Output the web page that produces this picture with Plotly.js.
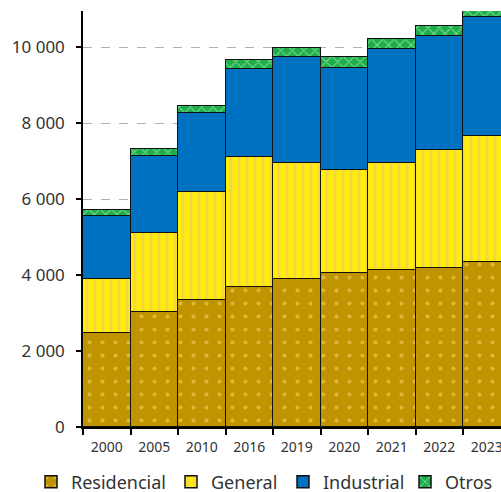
<!DOCTYPE html>
<html>
<head>
<meta charset="utf-8">
<script src="https://cdn.plot.ly/plotly-3.0.1.min.js"></script>
<style>html,body{margin:0;padding:0;overflow:hidden;background:#fff;}#chart{width:501px;height:492px;}</style>
</head>
<body>
<div id="chart"></div>
<script>
var years = ['2000','2005','2010','2016','2019','2020','2021','2022','2023'];
var residencial = [2470, 3030, 3350, 3680, 3900, 4045, 4130, 4180, 4360];
var general = [1430, 2080, 2830, 3430, 3060, 2735, 2825, 3105, 3300];
var industrial = [1670, 2040, 2080, 2310, 2800, 2680, 3015, 3015, 3150];
var otros = [140, 185, 190, 240, 230, 280, 245, 265, 170];

function tr(name, vals, color, shape, fg, size, sol, leg) {
  return {
    type: 'bar', name: name, x: years, y: vals, legend: leg,
    marker: {
      color: color,
      line: {color: '#111', width: 1.5},
      pattern: {shape: shape, fgcolor: fg, bgcolor: color, size: size, solidity: sol, fillmode: 'replace'}
    },
    hoverinfo: 'y'
  };
}
var data = [
  tr('Residencial', residencial, '#c09400', '.', '#dcb838', 13, 0.08, 'legend'),
  tr('General', general, '#fff000', '|', '#f8d448', 8, 0.4, 'legend2'),
  tr('Industrial', industrial, '#0070c0', '', '#0070c0', 8, 0.3, 'legend3'),
  tr('Otros', otros, '#1fae4a', 'x', '#7cdc98', 8, 0.25, 'legend4')
];
function leg(xpx) {
  return {orientation: 'h', xref: 'container', yref: 'container', x: xpx / 501, xanchor: 'left',
    y: 1 - 482 / 492, yanchor: 'middle', bgcolor: 'rgba(0,0,0,0)', borderwidth: 0,
    itemwidth: 30, font: {size: 18, color: '#333', family: 'Noto Sans, sans-serif'}};
}
var layout = {
  width: 501, height: 492,
  margin: {l: 83, r: 0, t: 11, b: 65},
  barmode: 'stack', bargap: 0,
  separators: ', ',
  paper_bgcolor: '#fff', plot_bgcolor: '#fff',
  font: {family: 'Noto Sans, sans-serif', color: '#333'},
  showlegend: true,
  legend: leg(31), legend2: leg(171), legend3: leg(283), legend4: leg(405),
  xaxis: {
    type: 'category', range: [-0.5, 8.3],
    tickson: 'boundaries', ticks: 'outside', ticklen: 6, tickcolor: '#000', tickwidth: 1.5,
    showline: true, linecolor: '#000', linewidth: 1.5, ticklabelstandoff: 6,
    tickfont: {size: 14, color: '#333'}, showgrid: false
  },
  yaxis: {
    range: [0, 10960], tickvals: [0, 2000, 4000, 6000, 8000, 10000], tickformat: ',d',
    ticks: 'outside', ticklen: 5, tickcolor: '#000', tickwidth: 1.5,
    showline: true, linecolor: '#000', linewidth: 1.5, ticklabelstandoff: 8,
    showgrid: true, gridcolor: '#b0b0b0', griddash: 'dash', gridwidth: 1,
    zeroline: false, tickfont: {size: 17, color: '#333'}
  }
};
Plotly.newPlot('chart', data, layout, {displayModeBar: false});
</script>
</body>
</html>
